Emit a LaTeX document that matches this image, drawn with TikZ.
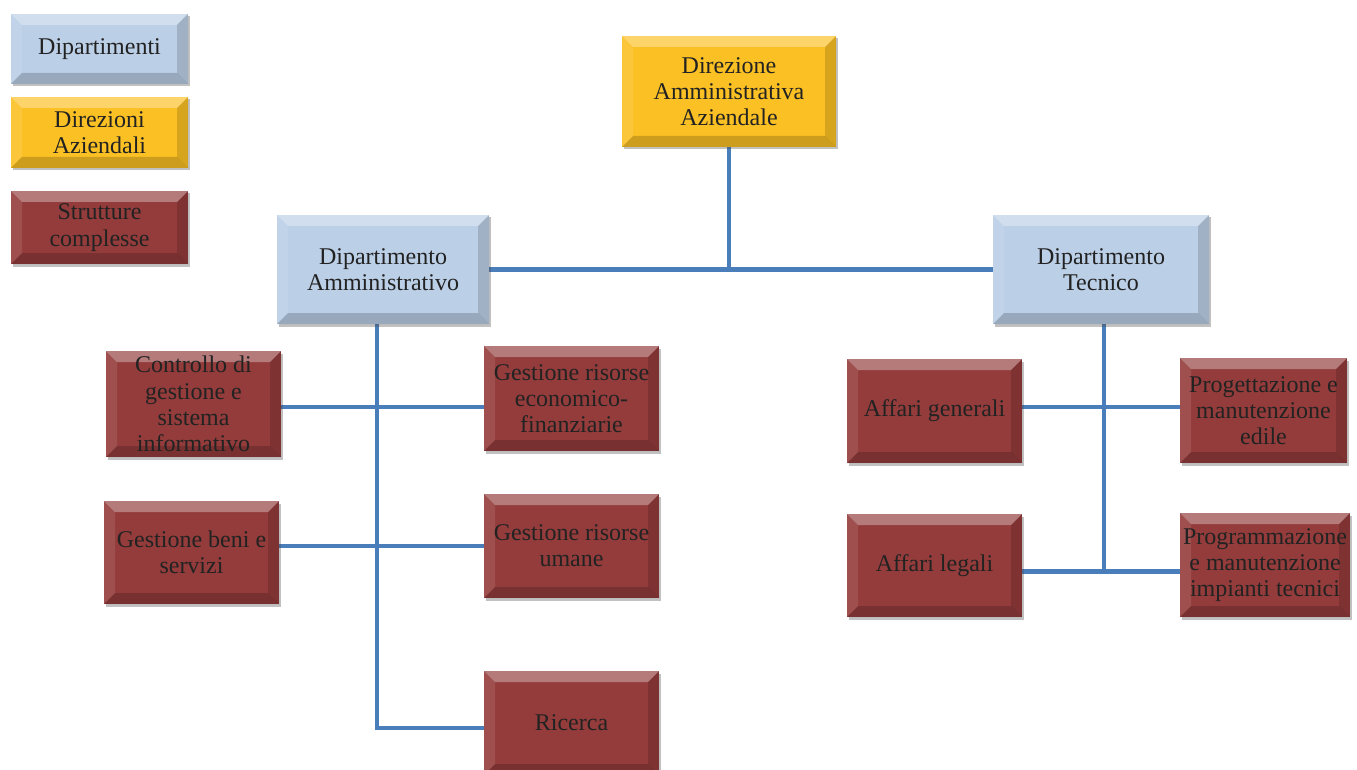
\documentclass[tikz,border=0pt]{standalone}
\usepackage{fontspec}
\setmainfont{Liberation Serif}
\usetikzlibrary{shadows,backgrounds}
\definecolor{dipblue}{HTML}{BBCFE7}
\definecolor{diryellow}{HTML}{FBC024}
\definecolor{strred}{HTML}{933C3B}
\definecolor{linkblue}{HTML}{4A7EBB}
\definecolor{txt}{HTML}{222222}
\tikzset{
  bevel/.style={rectangle, inner sep=0pt, fill=#1, text=txt, align=center,
    font=\fontsize{24}{26.3}\selectfont,
    drop shadow={shadow xshift=1.5pt, shadow yshift=-2.5pt, opacity=0.35, fill=black!70},
    path picture={
      \def\bw{11pt}
      \coordinate (nw) at (path picture bounding box.north west);
      \coordinate (ne) at (path picture bounding box.north east);
      \coordinate (sw) at (path picture bounding box.south west);
      \coordinate (se) at (path picture bounding box.south east);
      \fill[white, opacity=0.32] (nw) -- (ne) -- ([xshift=-\bw,yshift=-\bw]ne) -- ([xshift=\bw,yshift=-\bw]nw) -- cycle;
      \fill[white, opacity=0.10] (nw) -- ([xshift=\bw,yshift=-\bw]nw) -- ([xshift=\bw,yshift=\bw]sw) -- (sw) -- cycle;
      \fill[black, opacity=0.14] (ne) -- ([xshift=-\bw,yshift=-\bw]ne) -- ([xshift=-\bw,yshift=\bw]se) -- (se) -- cycle;
      \fill[black, opacity=0.18] (sw) -- ([xshift=\bw,yshift=\bw]sw) -- ([xshift=-\bw,yshift=\bw]se) -- (se) -- cycle;
    }},
  dip/.style={bevel=dipblue},
  dir/.style={bevel=diryellow},
  str/.style={bevel=strred},
  link/.style={draw=linkblue, line width=4.5pt}
}
\begin{document}
\begin{tikzpicture}[x=1pt, y=-1pt]
\useasboundingbox (0,0) rectangle (1357,770);

% legend
\node[dip, minimum width=177pt, minimum height=70pt] (leg1) at (99.5,49) {Dipartimenti};
\node[dir, minimum width=177pt, minimum height=71pt] (leg2) at (99.5,132.5) {Direzioni\\Aziendali};
\node[str, minimum width=177pt, minimum height=73pt] (leg3) at (99.5,227.5) {Strutture\\complesse};

% top level and departments
\node[dir, minimum width=214pt, minimum height=111pt] (daa) at (729,91.5) {Direzione\\Amministrativa\\Aziendale};
\node[dip, minimum width=212pt, minimum height=109pt] (dam) at (383,269.5) {Dipartimento\\Amministrativo};
\node[dip, minimum width=216pt, minimum height=109pt] (dte) at (1101,269.5) {Dipartimento\\Tecnico};

% administrative units
\node[str, minimum width=175pt, minimum height=106pt] (cdg) at (193.5,404) {Controllo di\\gestione e\\sistema\\informativo};
\node[str, minimum width=175pt, minimum height=105pt] (gre) at (571.5,398.5) {Gestione risorse\\economico-\\finanziarie};
\node[str, minimum width=175pt, minimum height=103pt] (gbs) at (191.5,552.5) {Gestione beni e\\servizi};
\node[str, minimum width=175pt, minimum height=104pt] (gru) at (571.5,546) {Gestione risorse\\umane};
\node[str, minimum width=175pt, minimum height=104pt] (ric) at (571.5,723) {Ricerca};

% technical units
\node[str, minimum width=175pt, minimum height=104pt] (afg) at (934.5,411) {Affari generali};
\node[str, minimum width=167pt, minimum height=105pt] (pme) at (1263.5,410.5) {Progettazione e\\manutenzione\\edile};
\node[str, minimum width=175pt, minimum height=103pt] (afl) at (934.5,565.5) {Affari legali};
\node[str, minimum width=170pt, minimum height=104pt] (pmi) at (1265,565) {Programmazione\\e manutenzione\\impianti tecnici};

\begin{scope}[on background layer]
  % top connections
  \draw[link] (daa.south) -- (daa.south |- dam.east);
  \draw[link] (dam.east) -- (dte.west);
  % administrative branch
  \coordinate (lv) at ([xshift=-6pt]dam.south);
  \coordinate (lend) at ([yshift=-5pt]ric.west);
  \draw[link] (lv) |- (lend);
  \draw[link] ([yshift=-3pt]cdg.east) -- ([yshift=-3pt]cdg.east -| gre.west);
  \draw[link] (gru.west -| gbs.east) -- (gru.west);
  % technical branch
  \coordinate (rv) at ([xshift=3pt]dte.south);
  \coordinate (rend) at ([yshift=-6pt]afl.east);
  \draw[link] (rv) -- (rv |- rend);
  \draw[link] ([yshift=4pt]afg.east) -- ([yshift=4pt]afg.east -| pme.west);
  \draw[link] (rend) -- (rend -| pmi.west);
\end{scope}
\end{tikzpicture}
\end{document}
